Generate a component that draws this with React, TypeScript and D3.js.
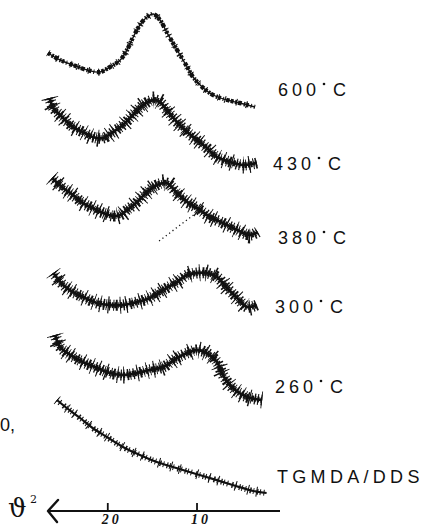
import React from "react";
import * as d3 from "d3";

// 2θ (degrees) vs stacked intensity (arbitrary units)
const trace600: [number, number][] = [
  [26.7, 467], [25.35, 460], [23.9, 455], [22.3, 450], [20.9, 448], [19.75, 453],
  [18.6, 460], [17.85, 470], [17.2, 482], [16.4, 495], [15.6, 503], [14.9, 506],
  [14.15, 500], [13.4, 488], [12.7, 477], [11.9, 465], [11.1, 453], [10.45, 443],
  [9.3, 432], [8.2, 425], [6.64, 420], [5.2, 417], [3.5, 413],
];
const trace430: [number, number][] = [
  [26.5, 422], [26.1, 412], [25.0, 402], [23.9, 393], [22.8, 388], [21.7, 383],
  [20.5, 382], [19.4, 388], [18.3, 395], [17.2, 405], [16.05, 415], [14.9, 420],
  [14.15, 418], [13.4, 410], [12.25, 398], [11.1, 388], [10.0, 380], [8.9, 372],
  [7.76, 363], [6.3, 358], [4.85, 355], [3.3, 357],
];
const trace380: [number, number][] = [
  [26.25, 342], [25.0, 332], [23.9, 325], [22.8, 317], [21.7, 312], [20.5, 307],
  [19.4, 304], [18.6, 305], [17.85, 310], [16.7, 318], [15.6, 328], [14.5, 335],
  [13.4, 337], [12.25, 327], [11.1, 318], [10.0, 312], [8.55, 303], [7.1, 297],
  [5.5, 290], [4.06, 285], [3.2, 288],
];
const baseline380: [number, number][] = [[14.25, 279], [10.25, 306]];
const trace300: [number, number][] = [
  [26.1, 247], [25.0, 235], [23.9, 228], [22.8, 223], [21.2, 217], [19.75, 215],
  [18.3, 215], [16.7, 218], [15.3, 222], [13.8, 230], [12.25, 238], [11.1, 245],
  [10.0, 247], [8.9, 247], [7.76, 243], [6.64, 232], [5.5, 222], [4.4, 213], [3.3, 215],
];
const trace260: [number, number][] = [
  [25.9, 185], [25.35, 173], [24.2, 165], [22.8, 158], [21.2, 152], [19.75, 147],
  [18.3, 145], [16.7, 147], [15.3, 150], [13.8, 153], [12.25, 162], [11.1, 167],
  [10.0, 170], [8.9, 167], [7.76, 158], [7.1, 145], [6.0, 132], [4.4, 123], [2.7, 120],
];
const traceTGMDA: [number, number][] = [
  [25.7, 120], [24.6, 112], [23.1, 102], [21.7, 92], [20.1, 83], [18.3, 73],
  [16.4, 65], [14.5, 58], [12.7, 53], [9.7, 45], [6.0, 35], [3.7, 29], [2.2, 27],
];

const seriesLabels = ["600", "430", "380", "300", "260", "TGMDA/DDS"];
const tickValues = [20, 10];
const tickLabels = ["20", "10"];

// layout (pixels)
const W = 427;
const H = 526;
const labelAnchors = [
  { x: 278, y: 96 },
  { x: 273, y: 170 },
  { x: 278, y: 244 },
  { x: 275, y: 313 },
  { x: 275, y: 393 },
  { x: 277, y: 483 },
];

export default function App() {
  const x = d3.scaleLinear().domain([26.7, 0.7]).range([48, 280]);
  const y = d3.scaleLinear().domain([0, 520]).range([520, 0]);
  const line = d3
    .line<[number, number]>()
    .x((d) => x(d[0]))
    .y((d) => y(d[1]))
    .curve(d3.curveCatmullRom.alpha(0.5));
  const axisY = y(9);

  const noisy = [trace430, trace380, trace300, trace260];
  const font = "'Liberation Sans', Arial, sans-serif";

  return (
    <svg
      width={W}
      height={H}
      viewBox={`0 0 ${W} ${H}`}
      style={{ position: "absolute", left: 0, top: 0, background: "#fff" }}
    >
      <rect width={W} height={H} fill="#fff" />
      {/* 600 °C : smoother, blobby trace */}
      <path d={line(trace600) || ""} fill="none" stroke="#111" strokeWidth={1.4} />
      <path
        d={line(trace600) || ""}
        fill="none"
        stroke="#111"
        strokeWidth={4.4}
        strokeDasharray="3 1.5 2 1 4 2 1.5 1 2.5 2 1 2.5 3.5 1.2"
      />
      <path
        d={line(trace600) || ""}
        fill="none"
        stroke="#111"
        strokeWidth={7}
        strokeDasharray="1 9 1.2 14 0.8 6 1 11"
      />
      {/* noisy traces */}
      {noisy.map((tr, i) => (
        <g key={i}>
          <path d={line(tr) || ""} fill="none" stroke="#111" strokeWidth={2.8} />
          <path
            d={line(tr) || ""}
            fill="none"
            stroke="#111"
            strokeWidth={11}
            strokeDasharray="1.3 1.8 1 2.6 1.6 1.2 0.9 2.3 1.3 2.9 1 1.5 2 2 0.8 2.6"
          />
          <path
            d={line(tr) || ""}
            fill="none"
            stroke="#111"
            strokeWidth={17}
            strokeDasharray="1 7 1.2 11 0.9 5 1.1 13 1 9 0.8 6"
          />
          <path
            d={line(tr) || ""}
            fill="none"
            stroke="#111"
            strokeWidth={6}
            strokeDasharray="1.5 1 2 1.5 1 1.2 2.4 0.9"
          />
        </g>
      ))}
      {/* dotted baseline on 380 */}
      <path
        d={line(baseline380) || ""}
        fill="none"
        stroke="#111"
        strokeWidth={1.3}
        strokeDasharray="1.2 3"
      />
      {/* TGMDA/DDS */}
      <path d={line(traceTGMDA) || ""} fill="none" stroke="#111" strokeWidth={2.2} />
      <path
        d={line(traceTGMDA) || ""}
        fill="none"
        stroke="#111"
        strokeWidth={6}
        strokeDasharray="1 2.5 1 4 1.5 2 1 3 1.2 1.6"
      />
      <path
        d={line(traceTGMDA) || ""}
        fill="none"
        stroke="#111"
        strokeWidth={10}
        strokeDasharray="1 12 1 8 1 17"
      />

      {/* series labels */}
      {seriesLabels.map((lab, i) => {
        const a = labelAnchors[i];
        if (i === seriesLabels.length - 1) {
          return (
            <text key={i} x={a.x} y={a.y} fontFamily={font} fontSize={18} letterSpacing={4.3} fill="#111">
              {lab}
            </text>
          );
        }
        return (
          <g key={i}>
            <text x={a.x} y={a.y} fontFamily={font} fontSize={18} letterSpacing={4} fill="#111">
              {lab}
            </text>
            <circle cx={a.x + 46} cy={a.y - 12} r={1.3} fill="#111" />
            <text x={a.x + 55} y={a.y} fontFamily={font} fontSize={18} fill="#111">
              C
            </text>
          </g>
        );
      })}

      {/* axis */}
      <line x1={x(26.7)} x2={x(0.7)} y1={axisY} y2={axisY} stroke="#111" strokeWidth={2.2} />
      <path
        d={`M${x(26.7) + 10},${axisY - 11} L${x(26.7)},${axisY} L${x(26.7) + 9},${axisY + 11}`}
        fill="none"
        stroke="#111"
        strokeWidth={2.4}
        strokeLinecap="round"
        strokeLinejoin="round"
      />
      {tickValues.map((t, i) => (
        <g key={t}>
          <line x1={x(t)} x2={x(t)} y1={axisY - 8} y2={axisY} stroke="#111" strokeWidth={1.8} />
          <text
            x={x(t) - 6}
            y={axisY + 12.5}
            fontFamily="'Liberation Serif', serif"
            fontStyle="italic"
            fontWeight="bold"
            fontSize={14}
            letterSpacing={3}
            fill="#111"
          >
            {tickLabels[i]}
          </text>
        </g>
      ))}
      <text x={8} y={517} fontFamily="'DejaVu Serif', serif" fontSize={26} fill="#111">
        ϑ
      </text>
      <text x={30} y={503} fontFamily="'DejaVu Serif', serif" fontSize={11} fill="#111">
        2
      </text>

      {/* fragment at the left edge */}
      <text x={0} y={431} fontFamily={font} fontSize={18} fill="#111">
        0,
      </text>
    </svg>
  );
}
